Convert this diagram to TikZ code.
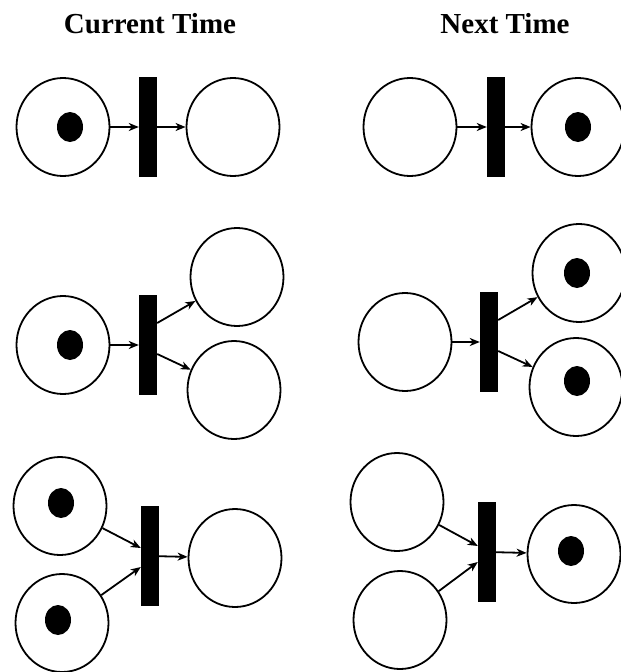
\documentclass[tikz,border=0pt]{standalone}
\usepackage{fontspec}
\usepackage{tikz}
\usetikzlibrary{shapes.geometric,arrows.meta}
\newfontfamily\titlefont{Liberation Serif}

\begin{document}
\begin{tikzpicture}[x=1pt,y=-1pt,
  place/.style={draw,ellipse,line width=1.8pt,minimum width=93pt,minimum height=98pt,inner sep=0pt},
  trans/.style={fill=black,minimum width=18pt,minimum height=100pt,inner sep=0pt},
  token/.style={fill=black,ellipse,minimum width=26pt,minimum height=30pt,inner sep=0pt},
  flow/.style={-{Stealth[length=10pt,width=8pt,inset=3pt]},line width=1.8pt},
  title/.style={font=\titlefont\bfseries\fontsize{29}{32}\selectfont}]
\useasboundingbox (0,0) rectangle (621,672);
% titles
\node[title] (cur) at (150,24) {Current Time};
\node[title] (nxt) at (505,24) {Next Time};
% current time, row 1
\node[place] (a1) at (63,127) {};
\node[trans] (a2) at (148,127) {};
\node[place] (a3) at (233,127) {};
\node[token] (ak) at (70,127) {};
\draw[flow] (a1) -- (a2);
\draw[flow] (a2) -- (a3);
% current time, row 2 (fork)
\node[place] (b1) at (63,345) {};
\node[trans] (b2) at (148,345) {};
\node[place] (b3) at (237,277) {};
\node[place] (b4) at (234,390) {};
\node[token] (bk) at (70,345) {};
\draw[flow] (b1) -- (b2);
\draw[flow] ([yshift=22pt]b2.east) -- (b3);
\draw[flow] ([yshift=-9pt]b2.east) -- (b4);
% current time, row 3 (join)
\node[place] (c1) at (60,506) {};
\node[place] (c2) at (62,623) {};
\node[trans] (c3) at (150,556) {};
\node[place] (c4) at (235,558) {};
\node[token] (ck1) at (61,503) {};
\node[token] (ck2) at (58,620) {};
\draw[flow] (c1) -- ([yshift=8pt]c3.west);
\draw[flow] (c2) -- ([yshift=-11pt]c3.west);
\draw[flow] (c3) -- (c4);
% next time, row 1
\node[place] (d1) at (410,127) {};
\node[trans] (d2) at (496,127) {};
\node[place] (d3) at (578,127) {};
\node[token] (dk) at (578,127) {};
\draw[flow] (d1) -- (d2);
\draw[flow] (d2) -- (d3);
% next time, row 2
\node[place] (e1) at (405,342) {};
\node[trans] (e2) at (489,342) {};
\node[place] (e3) at (579,273) {};
\node[place] (e4) at (576,387) {};
\node[token] (ek1) at (577,273) {};
\node[token] (ek2) at (577,381) {};
\draw[flow] (e1) -- (e2);
\draw[flow] ([yshift=22pt]e2.east) -- (e3);
\draw[flow] ([yshift=-9pt]e2.east) -- (e4);
% next time, row 3
\node[place] (f1) at (397,502) {};
\node[place] (f2) at (400,620) {};
\node[trans] (f3) at (487,552) {};
\node[place] (f4) at (574,554) {};
\node[token] (fk) at (571,551) {};
\draw[flow] (f1) -- ([yshift=6pt]f3.west);
\draw[flow] (f2) -- ([yshift=-10pt]f3.west);
\draw[flow] (f3) -- (f4);
\end{tikzpicture}
\end{document}
